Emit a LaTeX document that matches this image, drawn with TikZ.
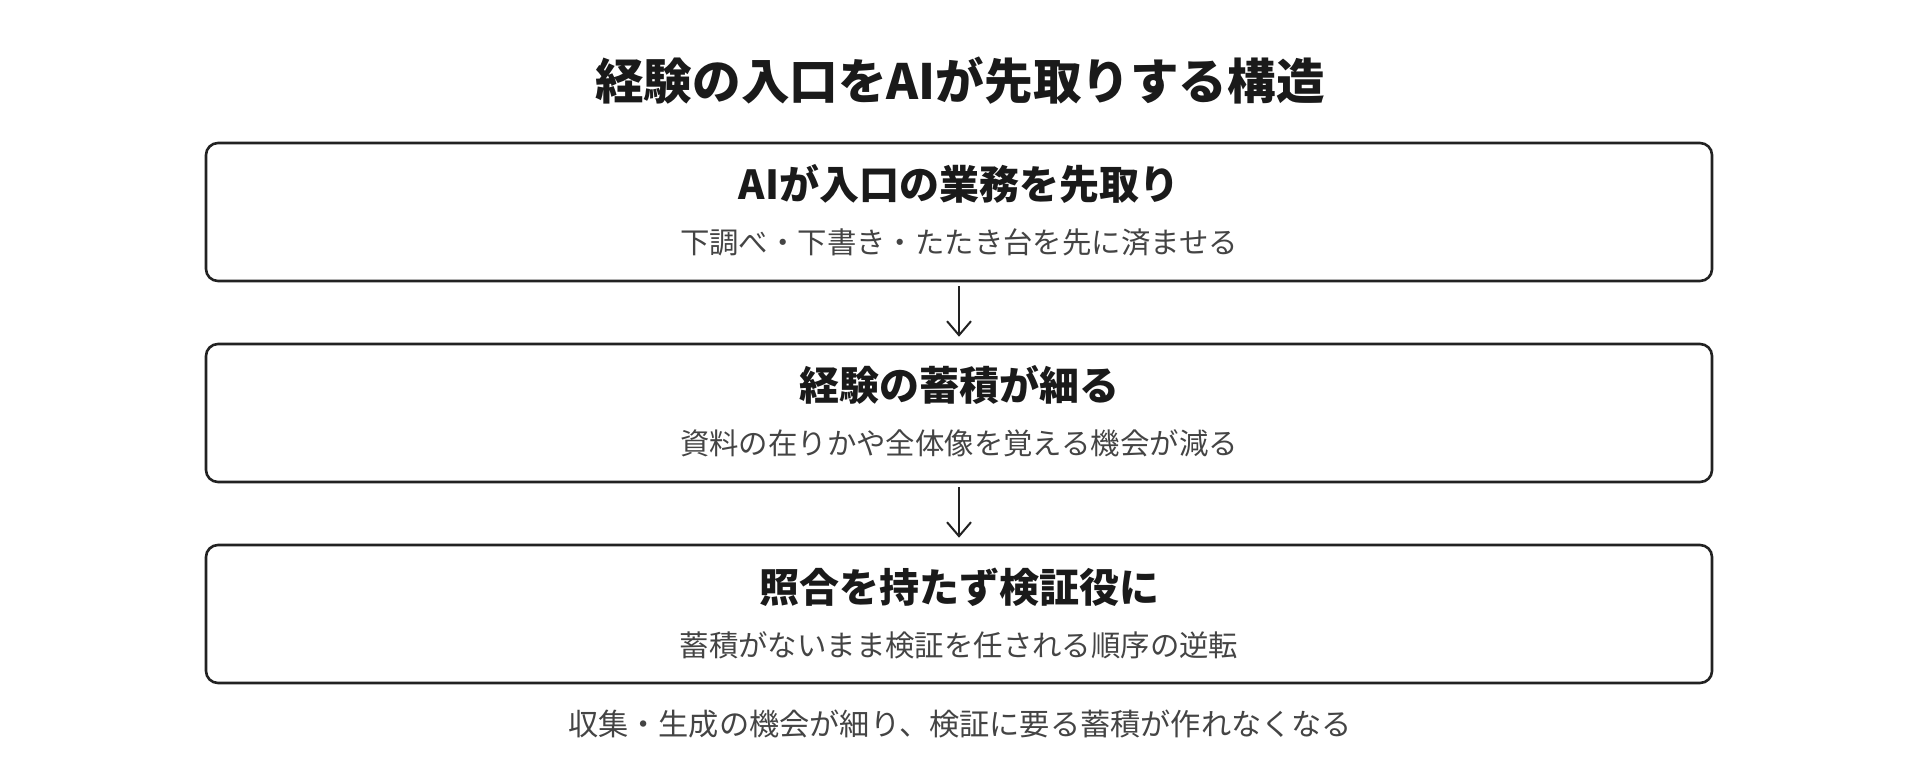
\documentclass[tikz,border=0pt]{standalone}
\usepackage{fontspec}
\setmainfont{Noto Sans CJK JP}
\usetikzlibrary{arrows.meta}
\definecolor{ink}{HTML}{1A1A1A}
\definecolor{rim}{HTML}{222222}
\definecolor{note}{HTML}{444444}
\begin{document}
\begin{tikzpicture}[x=0.5pt,y=-0.5pt,
    card/.style={draw=rim,line width=1.3pt,rounded corners=6pt,minimum width=753pt,minimum height=69pt,inner sep=0pt},
    head/.style={text=ink,font=\fontsize{20}{24}\selectfont\bfseries,inner sep=0pt},
    sub/.style={text=note,font=\fontsize{14.7}{17}\selectfont,inner sep=0pt},
    flow/.style={draw=rim,line width=1pt,-{Straight Barb[length=7pt,width=12pt,line width=1pt]},shorten <=2pt,shorten >=3pt}]
            \useasboundingbox (0,0) rectangle (1920,783);

            \node[text=ink,font=\fontsize{24.3}{29}\selectfont\bfseries] (title) at (960,81) {経験の入口をAIが先取りする構造};

            \node[card] (box1) at (959,212) {};
            \node[head] (head1) at (959,184) {AIが入口の業務を先取り};
            \node[sub] (sub1) at (959,242) {下調べ・下書き・たたき台を先に済ませる};

            \node[card] (box2) at (959,413) {};
            \node[head] (head2) at (959,385) {経験の蓄積が細る};
            \node[sub] (sub2) at (959,443) {資料の在りかや全体像を覚える機会が減る};

            \node[card] (box3) at (959,614) {};
            \node[head] (head3) at (959,587) {照合を持たず検証役に};
            \node[sub] (sub3) at (959,645) {蓄積がないまま検証を任される順序の逆転};

            \draw[flow] (box1.south) -- (box2.north);
            \draw[flow] (box2.south) -- (box3.north);

            \node[sub,font=\fontsize{15.1}{18}\selectfont] (foot) at (960,724) {収集・生成の機会が細り、検証に要る蓄積が作れなくなる};
        \end{tikzpicture}
\end{document}
